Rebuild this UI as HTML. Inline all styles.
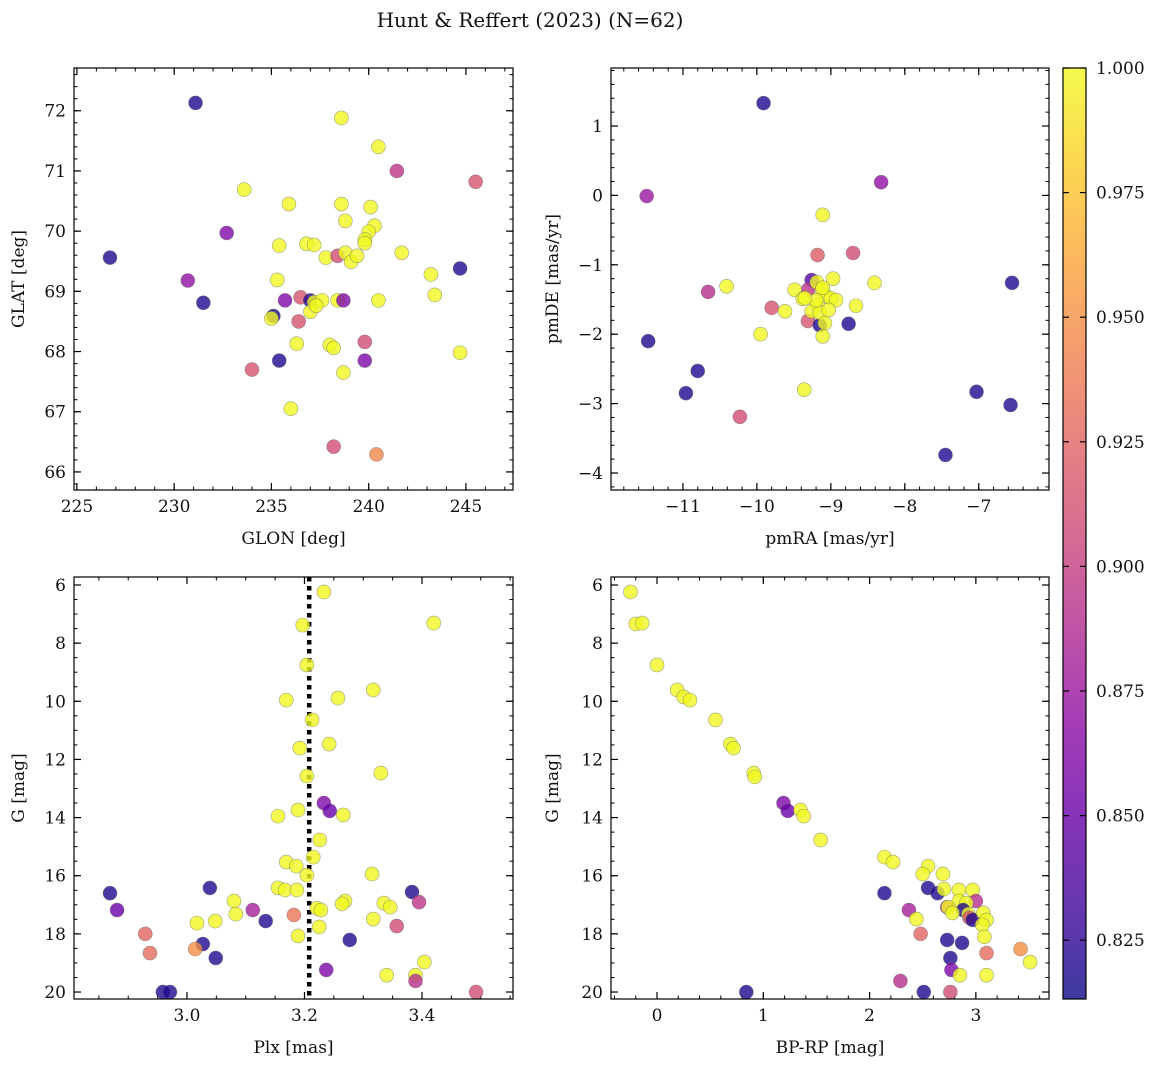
<!DOCTYPE html>
<html><head><meta charset="utf-8">
<style>
html,body{margin:0;padding:0;background:#fff;}
svg{display:block;font-family:"DejaVu Serif","Liberation Serif",serif;}
</style></head>
<body>
<svg id="chart" width="1160" height="1067" viewBox="0 0 1160 1067" xmlns="http://www.w3.org/2000/svg">
<defs>
<linearGradient id="plasma" x1="0" y1="1" x2="0" y2="0"></linearGradient>
</defs>
<text x="530" y="27" font-size="20" text-anchor="middle" fill="#111">Hunt &amp; Reffert (2023) (N=62)</text>
</svg>
<script>
// ---- data (values per panel: [x, y, membership probability]) ----
const glonGlat = [
[231.1,72.13,0.82],[238.6,71.88,1],[240.5,71.4,1],[241.45,71.0,0.895],[245.5,70.82,0.915],[233.6,70.69,1],[235.9,70.45,1],[238.6,70.45,1],[240.1,70.4,1],[238.8,70.17,1],[240.3,70.09,1],[240.0,69.99,1],[232.7,69.97,0.86],[239.8,69.86,1],[226.7,69.56,0.82],[235.4,69.76,1],[236.8,69.79,1],[237.2,69.77,1],[239.8,69.8,1],[237.8,69.56,1],[238.4,69.59,0.91],[238.8,69.64,1],[239.1,69.49,1],[239.4,69.59,1],[241.7,69.64,1],[244.7,69.38,0.82],[243.2,69.28,1],[230.7,69.18,0.87],[235.3,69.19,1],[243.4,68.94,1],[231.5,68.81,0.82],[236.5,68.9,0.915],[235.7,68.85,0.86],[237.0,68.85,0.82],[237.2,68.82,1],[237.6,68.85,1],[238.4,68.85,1],[238.7,68.85,0.86],[240.5,68.85,1],[237.0,68.66,1],[237.3,68.76,1],[235.1,68.59,0.82],[235.0,68.55,1],[236.4,68.5,0.915],[236.3,68.13,1],[238.0,68.11,1],[238.2,68.06,1],[239.8,68.16,0.91],[244.7,67.98,1],[235.4,67.85,0.82],[239.8,67.85,0.86],[234.0,67.7,0.915],[238.7,67.65,1],[236.0,67.05,1],[238.2,66.42,0.91],[240.4,66.29,0.945]
];
const pmRaDe = [
[-9.91,1.33,0.82],[-11.49,-0.01,0.875],[-8.32,0.19,0.87],[-11.47,-2.10,0.82],[-10.80,-2.53,0.82],[-10.96,-2.85,0.82],[-10.23,-3.19,0.91],[-10.66,-1.39,0.89],[-10.41,-1.31,1],[-9.80,-1.62,0.915],[-9.95,-2.0,1],[-9.62,-1.67,1],[-9.36,-2.80,1],[-9.18,-0.86,0.92],[-9.11,-0.28,1],[-8.70,-0.83,0.91],[-8.41,-1.26,1],[-8.66,-1.59,1],[-8.76,-1.85,0.82],[-9.26,-1.22,0.84],[-9.31,-1.36,0.895],[-9.31,-1.81,0.915],[-9.15,-1.87,0.82],[-9.49,-1.36,1],[-9.38,-1.49,1],[-9.19,-1.25,1],[-9.12,-1.36,1],[-9.07,-1.45,1],[-8.97,-1.20,1],[-9.0,-1.48,1],[-8.93,-1.51,1],[-9.18,-1.58,1],[-9.26,-1.67,1],[-9.15,-1.69,1],[-9.08,-1.84,1],[-9.11,-2.03,1],[-9.03,-1.65,1],[-9.11,-1.33,1],[-9.2,-1.51,1],[-7.03,-2.83,0.82],[-6.55,-1.26,0.82],[-6.57,-3.02,0.82],[-7.45,-3.74,0.82],[-9.35,-1.48,1]
];
const plxG = [
[3.233,6.24,1],[3.197,7.38,1],[3.420,7.31,1],[3.204,8.75,1],[3.169,9.96,1],[3.257,9.89,1],[3.317,9.61,1],[3.213,10.64,1],[3.192,11.61,1],[3.242,11.47,1],[3.330,12.47,1],[3.204,12.57,1],[3.233,13.5,0.86],[3.243,13.77,0.85],[3.189,13.74,1],[3.155,13.95,1],[3.266,13.91,1],[3.226,14.77,1],[3.215,15.36,1],[3.169,15.53,1],[3.186,15.67,1],[3.204,15.98,1],[3.315,15.94,1],[2.869,16.6,0.82],[2.881,17.18,0.85],[3.039,16.42,0.82],[3.155,16.42,1],[3.167,16.49,1],[3.187,16.49,1],[3.080,16.87,1],[3.269,16.87,1],[3.264,16.97,1],[3.335,16.94,1],[3.346,17.08,1],[3.383,16.56,0.82],[3.395,16.91,0.895],[3.221,17.12,1],[3.228,17.18,1],[3.083,17.32,1],[3.112,17.18,0.88],[3.182,17.35,0.935],[3.317,17.49,1],[3.134,17.56,0.82],[3.048,17.56,1],[3.017,17.63,1],[3.357,17.73,0.91],[3.225,17.76,1],[3.189,18.07,1],[2.929,18.0,0.925],[3.277,18.21,0.82],[3.027,18.35,0.82],[2.937,18.66,0.93],[3.014,18.52,0.95],[3.049,18.83,0.82],[3.404,18.97,1],[3.237,19.24,0.86],[3.340,19.42,1],[3.389,19.42,1],[3.389,19.62,0.89],[2.959,20.0,0.82],[2.971,20.0,0.82],[3.492,20.0,0.91]
];
const plxMedian = 3.208;
const bprpG = [
[-0.25,6.24,1],[-0.20,7.34,1],[-0.14,7.31,1],[0.0,8.75,1],[0.19,9.61,1],[0.25,9.85,1],[0.31,9.96,1],[0.55,10.64,1],[0.69,11.47,1],[0.72,11.61,1],[0.91,12.47,1],[0.92,12.6,1],[1.19,13.5,0.86],[1.23,13.77,0.85],[1.35,13.74,1],[1.38,13.95,1],[1.54,14.77,1],[2.14,15.36,1],[2.22,15.53,1],[2.55,15.67,1],[2.50,15.94,1],[2.69,15.94,1],[2.14,16.6,0.82],[2.55,16.42,0.82],[2.64,16.6,0.82],[2.70,16.46,1],[2.84,16.49,1],[2.97,16.49,1],[2.84,16.87,1],[2.73,17.08,0.89],[3.0,16.87,0.89],[2.74,17.08,1],[2.91,16.94,1],[2.88,17.18,0.82],[2.93,17.32,1],[2.78,17.28,1],[2.94,17.45,0.915],[2.97,17.52,0.82],[3.07,17.28,1],[3.10,17.52,1],[3.06,17.69,1],[2.37,17.18,0.88],[2.44,17.49,1],[3.08,18.1,1],[2.48,18.0,0.925],[2.73,18.21,0.82],[2.87,18.31,0.82],[3.10,18.66,0.93],[3.42,18.52,0.95],[3.51,18.97,1],[2.76,18.83,0.82],[2.77,19.24,0.86],[2.85,19.42,1],[3.10,19.42,1],[2.29,19.62,0.89],[0.84,20.0,0.82],[2.51,20.0,0.82],[2.76,20.0,0.91]
];
const cbarTicks = [0.825,0.850,0.875,0.900,0.925,0.950,0.975,1.000];
const cMin = 0.8132, cMax = 1.0;

const NS = "http://www.w3.org/2000/svg";
const svg = document.getElementById('chart');
const plasmaStops = ["#0d0887","#41049d","#6a00a8","#8f0da4","#b12a90","#cc4778","#e16462","#f2844b","#fca636","#fcce25","#f0f921"];
function hex(h){return [parseInt(h.slice(1,3),16),parseInt(h.slice(3,5),16),parseInt(h.slice(5,7),16)];}
function cmap(v){
  let t=(v-cMin)/(cMax-cMin); t=Math.max(0,Math.min(1,t));
  const f=t*10, i=Math.min(9,Math.floor(f)), r=f-i;
  const a=hex(plasmaStops[i]), b=hex(plasmaStops[i+1]);
  return 'rgb('+a.map((c,k)=>Math.round(c+(b[k]-c)*r)).join(',')+')';
}
function el(tag, attrs, parent){
  const e=document.createElementNS(NS,tag);
  for(const k in attrs) e.setAttribute(k,attrs[k]);
  (parent||svg).appendChild(e); return e;
}
function fmt(v,dec){return v<0?'\u2212'+Math.abs(v).toFixed(dec):v.toFixed(dec);}

function panel(cfg){
  const g=el('g',{});
  
  
  const {L,R,T,B}=cfg;
  const sx=v=>L+(v-cfg.x0)/(cfg.x1-cfg.x0)*(R-L);
  const sy=v=>cfg.yInv ? T+(v-cfg.y0)/(cfg.y1-cfg.y0)*(B-T) : B-(v-cfg.y0)/(cfg.y1-cfg.y0)*(B-T);
  const lo=(a,b)=>Math.min(a,b), hi=(a,b)=>Math.max(a,b);
  for(let v=Math.ceil(lo(cfg.x0,cfg.x1)/cfg.xMinor-1e-9)*cfg.xMinor; v<=hi(cfg.x0,cfg.x1)+1e-9; v+=cfg.xMinor){
    const x=sx(v);
    el('line',{x1:x,x2:x,y1:B,y2:B-3.5,stroke:'#000','stroke-width':1},g);
    el('line',{x1:x,x2:x,y1:T,y2:T+3.5,stroke:'#000','stroke-width':1},g);
  }
  for(let v=Math.ceil(lo(cfg.y0,cfg.y1)/cfg.yMinor-1e-9)*cfg.yMinor; v<=hi(cfg.y0,cfg.y1)+1e-9; v+=cfg.yMinor){
    const y=sy(v);
    el('line',{x1:L,x2:L+3.5,y1:y,y2:y,stroke:'#000','stroke-width':1},g);
    el('line',{x1:R,x2:R-3.5,y1:y,y2:y,stroke:'#000','stroke-width':1},g);
  }
  cfg.xTicks.forEach(v=>{
    const x=sx(v);
    el('line',{x1:x,x2:x,y1:B,y2:B-7,stroke:'#000','stroke-width':1.2},g);
    el('line',{x1:x,x2:x,y1:T,y2:T+7,stroke:'#000','stroke-width':1.2},g);
    const t=el('text',{x:x,y:B+22,'font-size':17,'text-anchor':'middle',fill:'#111'},g);
    t.textContent=fmt(v,cfg.xDec);
    
    
  });
  cfg.yTicks.forEach(v=>{
    const y=sy(v);
    el('line',{x1:L,x2:L+7,y1:y,y2:y,stroke:'#000','stroke-width':1.2},g);
    el('line',{x1:R,x2:R-7,y1:y,y2:y,stroke:'#000','stroke-width':1.2},g);
    const t=el('text',{x:L-8,y:y+6,'font-size':17,'text-anchor':'end',fill:'#111'},g);
    t.textContent=fmt(v,cfg.yDec);
    
    
  });
  const cp='clip-'+cfg.name;
  const cpEl=el('clipPath',{id:cp},g);
  el('rect',{x:L,y:T,width:R-L,height:B-T},cpEl);
  const pg=el('g',{'clip-path':'url(#'+cp+')'},g);
  if(cfg.vline!==undefined){
    const x=sx(cfg.vline);
    const ln=el('line',{x1:x,x2:x,y1:T,y2:B,stroke:'#000','stroke-width':4.5,'stroke-dasharray':'4.5,4.5'},pg);
    
    
  }
  cfg.data.forEach(d=>{
    const c=el('circle',{cx:sx(d[0]),cy:sy(d[1]),r:7,fill:cmap(d[2]),'fill-opacity':0.8,stroke:'#666','stroke-opacity':0.6,'stroke-width':0.6},pg);
    
    
  });
  const fr=el('rect',{x:L,y:T,width:R-L,height:B-T,fill:'none',stroke:'#000','stroke-width':1.2},g);
  
  
  const xl=el('text',{x:(L+R)/2,y:B+54,'font-size':17,'text-anchor':'middle',fill:'#111'},g);
  xl.textContent=cfg.xLabel;
  
  
  const yx=cfg.yLabelX, yy=(T+B)/2;
  const yl=el('text',{x:yx,y:yy,'font-size':17,'text-anchor':'middle',fill:'#111',transform:'rotate(-90 '+yx+' '+yy+')'},g);
  yl.textContent=cfg.yLabel;
  
  
}

panel({name:'glon-glat-panel',L:74,R:513,T:68,B:490,x0:224.85,x1:247.42,y0:65.70,y1:72.71,
  xTicks:[225,230,235,240,245],xMinor:1,xDec:0,yTicks:[66,67,68,69,70,71,72],yMinor:0.2,yDec:0,
  data:glonGlat,xLabel:'GLON [deg]',yLabel:'GLAT [deg]',yLabelX:24});
panel({name:'proper-motion-panel',L:611,R:1049,T:68,B:490,x0:-11.973,x1:-6.05,y0:-4.245,y1:1.836,
  xTicks:[-11,-10,-9,-8,-7],xMinor:0.2,xDec:0,yTicks:[-4,-3,-2,-1,0,1],yMinor:0.2,yDec:0,
  data:pmRaDe,xLabel:'pmRA [mas/yr]',yLabel:'pmDE [mas/yr]',yLabelX:558});
panel({name:'parallax-mag-panel',L:74,R:513,T:577,B:999,x0:2.8077,x1:3.5549,y0:5.725,y1:20.24,yInv:true,
  xTicks:[3.0,3.2,3.4],xMinor:0.05,xDec:1,yTicks:[6,8,10,12,14,16,18,20],yMinor:0.5,yDec:0,
  data:plxG,vline:plxMedian,xLabel:'Plx [mas]',yLabel:'G [mag]',yLabelX:24});
panel({name:'cmd-panel',L:611,R:1049,T:577,B:999,x0:-0.433,x1:3.688,y0:5.725,y1:20.24,yInv:true,
  xTicks:[0,1,2,3],xMinor:0.2,xDec:0,yTicks:[6,8,10,12,14,16,18,20],yMinor:0.5,yDec:0,
  data:bprpG,xLabel:'BP-RP [mag]',yLabel:'G [mag]',yLabelX:558});

// colorbar
const grad=document.getElementById('plasma');
plasmaStops.forEach((c,i)=>el('stop',{offset:(i*10)+'%','stop-color':c},grad));
const cbL=1063,cbR=1086,cbT=68,cbB=999;
const cg=el('g',{});


el('rect',{x:cbL,y:cbT,width:cbR-cbL,height:cbB-cbT,fill:'url(#plasma)','fill-opacity':0.8},cg);
el('rect',{x:cbL,y:cbT,width:cbR-cbL,height:cbB-cbT,fill:'none',stroke:'#000','stroke-width':1.2},cg);
cbarTicks.forEach(v=>{
  const y=cbB-(v-cMin)/(cMax-cMin)*(cbB-cbT);
  el('line',{x1:cbR,x2:cbR-6,y1:y,y2:y,stroke:'#000','stroke-width':1.2},cg);
  el('line',{x1:cbL,x2:cbL+6,y1:y,y2:y,stroke:'#000','stroke-width':1.2},cg);
  const t=el('text',{x:cbR+10,y:y+6,'font-size':17,fill:'#111'},cg);
  t.textContent=v.toFixed(3);
  
  
});
</script>
</body></html>
